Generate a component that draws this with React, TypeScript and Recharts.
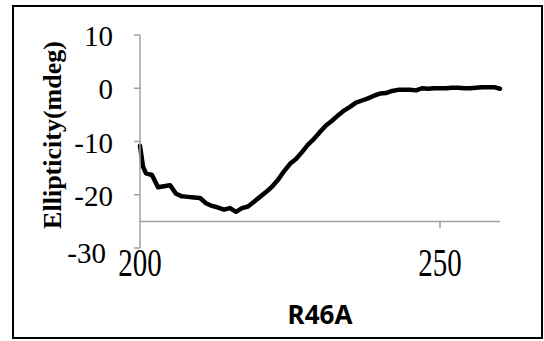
import React from "react";
import { LineChart, Line, XAxis, YAxis, ReferenceLine, Label } from "recharts";

const wavelengths = [
  200, 200.5, 201, 202, 203, 204, 205, 206, 207, 208, 209, 210, 211, 212, 213, 214, 215, 216, 217, 218, 219,
  220, 221, 222, 223, 224, 225, 226, 227, 228, 229, 230, 231, 232, 233, 234, 235, 236, 237, 238, 239,
  240, 241, 242, 243, 244, 245, 246, 247, 248, 249, 250, 251, 252, 253, 254, 255, 256, 257, 258, 259, 260,
];
const ellipticity = [
  -10.8, -14.7, -16.0, -16.3, -18.6, -18.4, -18.2, -19.8, -20.3, -20.4, -20.5, -20.6, -21.6, -22.1, -22.4, -22.8, -22.5, -23.2, -22.5, -22.2, -21.3,
  -20.4, -19.5, -18.5, -17.2, -15.6, -14.2, -13.3, -12.0, -10.6, -9.5, -8.2, -7.0, -6.1, -5.1, -4.2, -3.5, -2.7, -2.3, -1.9, -1.4,
  -1.0, -0.9, -0.5, -0.3, -0.3, -0.3, -0.4, 0.0, -0.1, 0.0, 0.0, 0.0, 0.1, 0.1, 0.0, 0.0, 0.1, 0.2, 0.2, 0.2, -0.1,
];
const xTicks = [200, 250];
const yTicks = [-30, -20, -10, 0, 10];
const xTitle = "R46A";
const yTitle = "Ellipticity(mdeg)";

const data = wavelengths.map((w, i) => ({ w, v: ellipticity[i] }));

const AXIS = "#a0a0a0";
const SERIF = "'Times New Roman', 'Liberation Serif', serif";
const serifStyle = { fontFamily: SERIF };

const XTick = (props: any) => {
  const { x, y, payload } = props;
  return (
    <g transform={`translate(${x},${y}) scale(1,1.4)`}>
      <text x={0} y={0} dy="0.35em" textAnchor="middle" style={serifStyle} fontSize={29} fill="#000">
        {payload.value}
      </text>
    </g>
  );
};

const YTick = (props: any) => {
  const { x, y, payload } = props;
  const shift = payload.value === -30 ? -7 : 0;
  return (
    <text
      x={x + shift}
      y={y + (payload.value === -30 ? 5 : 1)}
      dy="0.35em"
      textAnchor="end"
      style={serifStyle}
      fontSize={29}
      fill="#000"
    >
      {payload.value}
    </text>
  );
};

export default function App() {
  return (
    <div style={{ position: "absolute", left: 0, top: 0, width: 544, height: 341, background: "#fff" }}>
      <div
        style={{
          position: "absolute",
          left: 12,
          top: 5,
          width: 531,
          height: 334,
          border: "2px solid #000",
          boxSizing: "border-box",
        }}
      />
      <div style={{ position: "absolute", left: 0, top: 0 }}>
        <LineChart width={544} height={341} data={data} margin={{ top: 35, right: 44, bottom: 63, left: 80 }}>
          <XAxis
            dataKey="w"
            type="number"
            domain={[200, 260]}
            ticks={xTicks}
            axisLine={false}
            tickLine={false}
            tickSize={0}
            tickMargin={14}
            height={30}
            tick={<XTick />}
          >
            <Label
              content={() => (
                <text
                  x={320}
                  y={315}
                  dy="0.35em"
                  textAnchor="middle"
                  style={{ fontFamily: "'Noto Sans', sans-serif" }}
                  fontWeight="bold"
                  fontSize={26}
                  fill="#000"
                >
                  {xTitle}
                </text>
              )}
            />
          </XAxis>
          <YAxis
            type="number"
            domain={[-30, 10]}
            ticks={yTicks}
            width={60}
            axisLine={{ stroke: AXIS, strokeWidth: 1.5 }}
            tickLine={{ stroke: AXIS, strokeWidth: 1.5 }}
            tickSize={6}
            tickMargin={21}
            tick={<YTick />}
          >
            <Label
              content={() => (
                <text
                  transform="translate(52,135) rotate(-90)"
                  x={0}
                  y={0}
                  dy="0.35em"
                  textAnchor="middle"
                  style={serifStyle}
                  fontWeight="bold"
                  fontSize={26}
                  fill="#000"
                >
                  {yTitle}
                </text>
              )}
            />
          </YAxis>
          <ReferenceLine y={-25} stroke={AXIS} strokeWidth={1.5} />
          <ReferenceLine segment={[{ x: 250, y: -25 }, { x: 250, y: -26.3 }]} stroke={AXIS} strokeWidth={1.5} />
          <Line
            type="linear"
            dataKey="v"
            stroke="#000"
            strokeWidth={4.5}
            dot={false}
            isAnimationActive={false}
            strokeLinejoin="round"
            strokeLinecap="round"
          />
        </LineChart>
      </div>
    </div>
  );
}
